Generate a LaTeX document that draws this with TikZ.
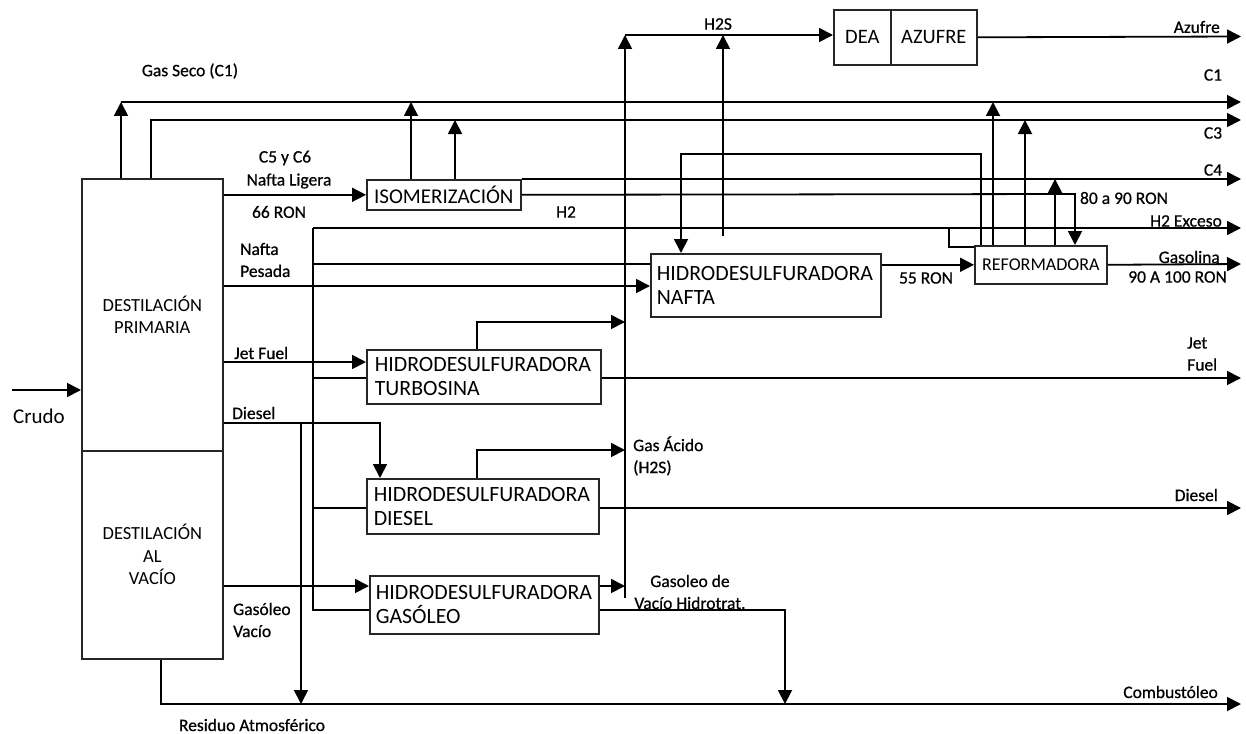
\documentclass[tikz,border=0pt]{standalone}
\usepackage{fontspec}
\setmainfont{Carlito}
\newfontfamily\lblfont[FakeBold=0.6]{Carlito}
\usetikzlibrary{arrows.meta}
\begin{document}
\begin{tikzpicture}[x=1pt,y=-1pt,
  blk/.style={draw=black!85,line width=1.6pt,rectangle,inner sep=0pt,anchor=north west,align=center},
  hds/.style={blk,align=left,font=\fontsize{21.8}{24}\selectfont},
  lbl/.style={inner sep=0pt,font=\lblfont\fontsize{17.5}{22}\selectfont},
  pipe/.style={line width=1.8pt},
  flow/.style={pipe,-{Triangle[length=14pt,width=14pt]}}
]
\useasboundingbox (0,0) rectangle (1246,733);

% ---------- units ----------
\node[blk,minimum width=141pt,minimum height=272pt,font=\fontsize{18.5}{22.5}\selectfont] (prim) at (81,178) {DESTILACIÓN\\PRIMARIA};
\node[blk,minimum width=141pt,minimum height=208pt,font=\fontsize{18.5}{22.5}\selectfont] (vac) at (81,450) {DESTILACIÓN\\AL\\VACÍO};
\node[blk,minimum width=154pt,minimum height=30pt,font=\fontsize{21}{24}\selectfont] (iso) at (366,179) {ISOMERIZACIÓN};
\node[hds,minimum width=230pt,minimum height=63pt,text width=218pt] (hdsn) at (650,253) {HIDRODESULFURADORA\\NAFTA};
\node[hds,minimum width=234pt,minimum height=54pt,text width=218pt] (hdst) at (366,349) {HIDRODESULFURADORA\\TURBOSINA};
\node[hds,minimum width=232pt,minimum height=55pt,text width=218pt] (hdsd) at (366,478) {HIDRODESULFURADORA\\DIESEL};
\node[hds,minimum width=229pt,minimum height=58pt,text width=217pt] (hdsg) at (369,575) {HIDRODESULFURADORA\\GASÓLEO};
\node[blk,minimum width=132pt,minimum height=38pt,font=\fontsize{18}{20}\selectfont] (ref) at (974,245) {REFORMADORA};
\node[blk,minimum width=57pt,minimum height=55pt,font=\fontsize{20.5}{23}\selectfont] (dea) at (833,9) {DEA};
\node[blk,minimum width=86pt,minimum height=55pt,font=\fontsize{20.5}{23}\selectfont] (azu) at (890,9) {AZUFRE};

% ---------- coordinates ----------
\coordinate (crudoIn) at (12,390);
\coordinate (gsC) at (121,102);
\coordinate (oC1) at (1241,102);
\coordinate (c3C) at (151,120);
\coordinate (oC3) at (1241,120);
\coordinate (oC4) at (1241,179);
\coordinate (r8090) at (1075,194);
\coordinate (h2C) at (313,228);
\coordinate (oH2) at (1241,228);
\coordinate (dslC) at (380,423);
\coordinate (dslB) at (301,423);
\coordinate (resC) at (161,704);
\coordinate (oComb) at (1241,704);
\coordinate (gvC) at (785,610);
\coordinate (colB) at (625,598);
\coordinate (colT) at (625,35);
\coordinate (hnS) at (723,236);
\coordinate (recC) at (981,154);
\coordinate (recL) at (681,154);
\coordinate (h2R) at (949,228);

% ---------- connectors ----------
\draw[flow] (crudoIn) -- (crudoIn -| prim.west);
\draw[flow] (prim.north -| gsC) -- (gsC);
\draw[flow] (gsC) -- (oC1);
\draw[flow] (prim.north -| c3C) -- (c3C) -- (oC3);
\draw[flow] (prim.east |- iso.west) -- (iso.west);
\draw[flow] (iso.north -| 411,0) -- (411,102);
\draw[flow] (iso.north -| 455,0) -- (455,120);
\draw[flow] (iso.north east) -- (oC4);
\draw[flow] (iso.east) -- (r8090) -- (ref.north -| r8090);
% H2
\draw[flow] (h2C) -- (oH2);
\draw[pipe] (h2C) |- (hdsg.west |- 0,610);
\draw[pipe] (h2C |- 0,264) -- (hdsn.west |- 0,264);
\draw[pipe] (h2C |- 0,378) -- (hdst.west |- 0,378);
\draw[pipe] (h2C |- 0,508) -- (hdsd.west |- 0,508);
% primary cuts
\draw[flow] (prim.east |- 0,286) -- (hdsn.west |- 0,286);
\draw[flow] (prim.east |- 0,362) -- (hdst.west |- 0,362);
\draw[flow] (prim.east |- dslC) -- (dslC) -- (hdsd.north -| dslC);
\draw[flow] (dslB) -- (dslB |- oComb);
\draw[flow] (vac.east |- 0,586) -- (hdsg.west |- 0,586);
\draw[flow] (vac.south -| resC) -- (resC) -- (oComb);
\draw[flow] (hdsg.east |- gvC) -- (gvC) -- (gvC |- oComb);
% H2S collector
\draw[flow] (colB) -- (colT);
\draw[flow] (colT) -- (dea.west |- colT);
\draw[flow] (hdst.north -| 477,0) -- (477,322) -- (colB |- 0,322);
\draw[flow] (hdsd.north -| 477,0) -- (477,450) -- (colB |- 0,450);
\draw[flow] (hdsg.east |- 0,586) -- (colB |- 0,586);
\draw[flow] (hnS) -- (hnS |- colT);
% products
\draw[flow] (hdst.east |- 0,378) -- (1241,378);
\draw[flow] (hdsd.east |- 0,508) -- (1241,508);
\draw[flow] (azu.east) -- (1241,36.5);
% reformer
\draw[flow] (ref.north -| recC) -- (recC) -- (recL) -- (hdsn.north -| recL);
\draw[flow] (hdsn.east |- ref.west) -- (ref.west);
\draw[flow] (ref.east) -- (1241,264);
\draw[flow] (ref.north -| 993,0) -- (993,102);
\draw[flow] (ref.north -| 1025,0) -- (1025,120);
\draw[flow] (ref.north -| 1055,0) -- (1055,179);
\draw[pipe] (h2R) |- (ref.west |- 0,247);

% ---------- labels ----------
\node[inner sep=0pt,font=\fontsize{21}{24}\selectfont] (lCrudo) at (39,416) {Crudo};
\node[lbl] (lGas) at (190,71) {Gas Seco (C1)};
\node[lbl] (lC5) at (285,158) {C5 y C6};
\node[lbl] (lNL) at (289,181) {Nafta Ligera};
\node[lbl] (l66) at (279,212) {66 RON};
\node[lbl] (lH2) at (566,212) {H2};
\node[lbl] (lH2S) at (718,24) {H2S};
\node[lbl,anchor=east] (lAz) at (1220,27) {Azufre};
\node[lbl] (lC1) at (1213,75) {C1};
\node[lbl] (lC3) at (1213,133) {C3};
\node[lbl] (lC4) at (1213,170) {C4};
\node[lbl] (l8090) at (1124,198) {80 a 90 RON};
\node[lbl,anchor=east] (lH2E) at (1222,221) {H2 Exceso};
\node[lbl,anchor=west,align=left] (lNP) at (240,260) {Nafta\\Pesada};
\node[lbl,anchor=west] (lJF) at (234,353) {Jet Fuel};
\node[lbl,anchor=west] (lDsl) at (232,413) {Diesel};
\node[lbl,anchor=west,align=left] (lGV) at (233,620) {Gasóleo\\Vacío};
\node[lbl] (lRes) at (252,725) {Residuo Atmosférico};
\node[lbl,anchor=west,align=left] (lGA) at (633,456) {Gas Ácido\\(H2S)};
\node[lbl,align=center] (lGVH) at (690,592) {Gasoleo de\\Vacío Hidrotrat.};
\node[lbl] (l55) at (926,278) {55 RON};
\node[lbl,anchor=east] (lGasol) at (1220,257) {Gasolina};
\node[lbl,anchor=east] (l90) at (1227,277) {90 A 100 RON};
\node[lbl,anchor=west,align=left] (lJet) at (1187,354) {Jet\\Fuel};
\node[lbl,anchor=east] (lDslO) at (1218,495) {Diesel};
\node[lbl,anchor=east] (lComb) at (1218,692) {Combustóleo};
\end{tikzpicture}
\end{document}
